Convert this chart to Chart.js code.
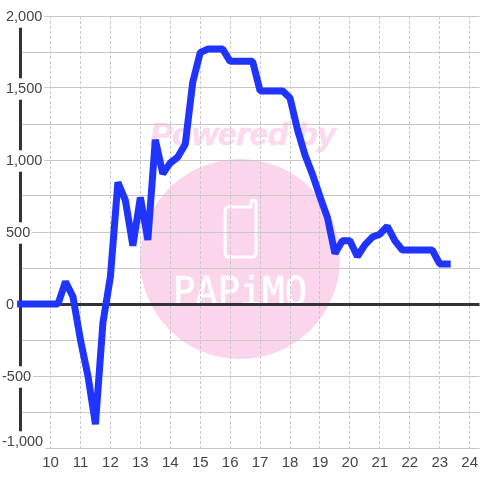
<!DOCTYPE html>
<html>
<head>
<meta charset="utf-8">
<script src="https://cdn.jsdelivr.net/npm/chart.js@4"></script>
<style>
	html, body { margin: 0; background: #fff; overflow: hidden; height: 480px; }
	#marca, #grafico { position: absolute; left: 0; top: 0; }
</style>
</head>
<body>
<svg id="marca" width="480" height="480">
	<circle cx="240" cy="259" r="100" fill="#fbd5ec" />
	<text x="150" y="145" font-family="Liberation Sans" font-weight="bold" font-style="italic" font-size="31" fill="#fcd9ef" stroke="#fcd9ef" stroke-width="0.6" textLength="186" lengthAdjust="spacingAndGlyphs">Powered by</text>
	<path d="M229 207 H251 V203 Q251 200 254 200 Q256 200 256 203 V253 Q256 257 252 257 H229 Q225 257 225 253 V211 Q225 207 229 207 Z" fill="none" stroke="#fff" stroke-width="3" />
	<text x="173" y="305" font-family="DejaVu Sans Mono" font-size="39" fill="#fff" stroke="#fff" stroke-width="0.5" textLength="134" lengthAdjust="spacingAndGlyphs">PAPiMO</text>
</svg>
<!-- 4px a mais: a folga que o Chart.js deixa para a espessura da linha -->
<canvas id="grafico" width="484" height="480"></canvas>
<script>
// horas do dia, uma leitura a cada 15 min
var horas = [9, 9.25, 9.5, 9.75, 10, 10.25, 10.5, 10.75, 11, 11.25, 11.5, 11.75, 12, 12.25, 12.5, 12.75, 13, 13.25, 13.5, 13.75, 14, 14.25, 14.5, 14.75, 15, 15.25, 15.5, 15.75, 16, 16.25, 16.5, 16.75, 17, 17.25, 17.5, 17.75, 18, 18.25, 18.5, 18.75, 19, 19.25, 19.5, 19.75, 20, 20.25, 20.5, 20.75, 21, 21.25, 21.5, 21.75, 22, 22.25, 22.5, 22.75, 23, 23.25];
var valores = [0, 0, 0, 0, 0, 0, 155, 50, -250, -500, -835, -130, 190, 845, 720, 405, 740, 445, 1140, 905, 980, 1020, 1110, 1540, 1745, 1770, 1770, 1770, 1685, 1685, 1685, 1685, 1480, 1480, 1480, 1480, 1430, 1210, 1035, 900, 745, 600, 350, 440, 440, 330, 410, 465, 485, 540, 440, 375, 375, 375, 375, 375, 278, 278];
var ticks_x = [10, 11, 12, 13, 14, 15, 16, 17, 18, 19, 20, 21, 22, 23, 24];
var ticks_y = [2000, 1500, 1000, 500, 0, -500];
var tick_y_base = -1000;

var pontos = horas.map((h, i) => ({ x: h, y: valores[i] }));

function rotuloY(valor) {
	if (!ticks_y.includes(valor)) return "";
	var texto = valor.toLocaleString("en-US");
	// o sinal de menos fica para fora do alinhamento
	return valor < 0 ? texto : " " + texto;
}

var fonte_y = { family: "Liberation Sans", size: 14.5 };

new Chart(document.getElementById("grafico"), {
	type: "line",
	data: {
		datasets: [
			{
				data: pontos,
				borderColor: "#1f35ff",
				borderWidth: 7,
				borderCapStyle: "square",
				borderJoinStyle: "bevel",
				pointRadius: 0,
				tension: 0,
				clip: false,
			},
		],
	},
	options: {
		responsive: false,
		animation: false,
		layout: { padding: { top: 16 }, autoPadding: false },
		plugins: { legend: { display: false }, tooltip: { enabled: false } },
		scales: {
			x: {
				type: "linear",
				min: 8.98,
				max: 24.33,
				afterBuildTicks: (eixo) => {
					eixo.ticks = ticks_x.map((v) => ({ value: v }));
				},
				afterFit: (eixo) => {
					eixo.height = 32;
				},
				grid: {
					color: "#c8c8c8",
					lineWidth: 1,
					drawTicks: false,
				},
				border: { display: false, dash: [3, 2] },
				ticks: {
					color: "#444",
					font: { family: "Liberation Sans", size: 15 },
					padding: 6,
					maxRotation: 0,
					autoSkip: false,
					callback: (v) => v,
				},
			},
			y: {
				min: -1000,
				max: 2000,
				afterFit: (eixo) => {
					eixo.width = 20;
				},
				grid: {
					color: (c) => (c.tick.value == 0 ? "#333" : "#c8c8c8"),
					lineWidth: (c) => (c.tick.value == 0 ? 3 : 1),
					drawTicks: false,
				},
				border: { display: true, color: "#333", width: 3, z: -1 },
				ticks: {
					stepSize: 250,
					color: "#444",
					font: fonte_y,
					mirror: true,
					padding: -18,
					crossAlign: "near",
					labelOffset: 1,
					autoSkip: false,
					showLabelBackdrop: (c) => ticks_y.includes(c.tick.value),
					backdropColor: "#fff",
					backdropPadding: 2,
					callback: rotuloY,
				},
			},
			// eixo auxiliar: o rotulo de -1,000 fica acima da linha de base
			y_base: {
				position: "left",
				weight: -1,
				min: -1000,
				max: 2000,
				afterBuildTicks: (eixo) => {
					eixo.ticks = [{ value: tick_y_base }];
				},
				afterFit: (eixo) => {
					eixo.width = 0;
				},
				grid: { display: false, drawTicks: false },
				border: { display: false },
				ticks: {
					color: "#444",
					font: fonte_y,
					mirror: true,
					padding: -18,
					crossAlign: "near",
					labelOffset: -6,
					showLabelBackdrop: true,
					backdropColor: "#fff",
					backdropPadding: 2,
					callback: (v) => v.toLocaleString("en-US"),
				},
			},
		},
	},
});
</script>
</body>
</html>
